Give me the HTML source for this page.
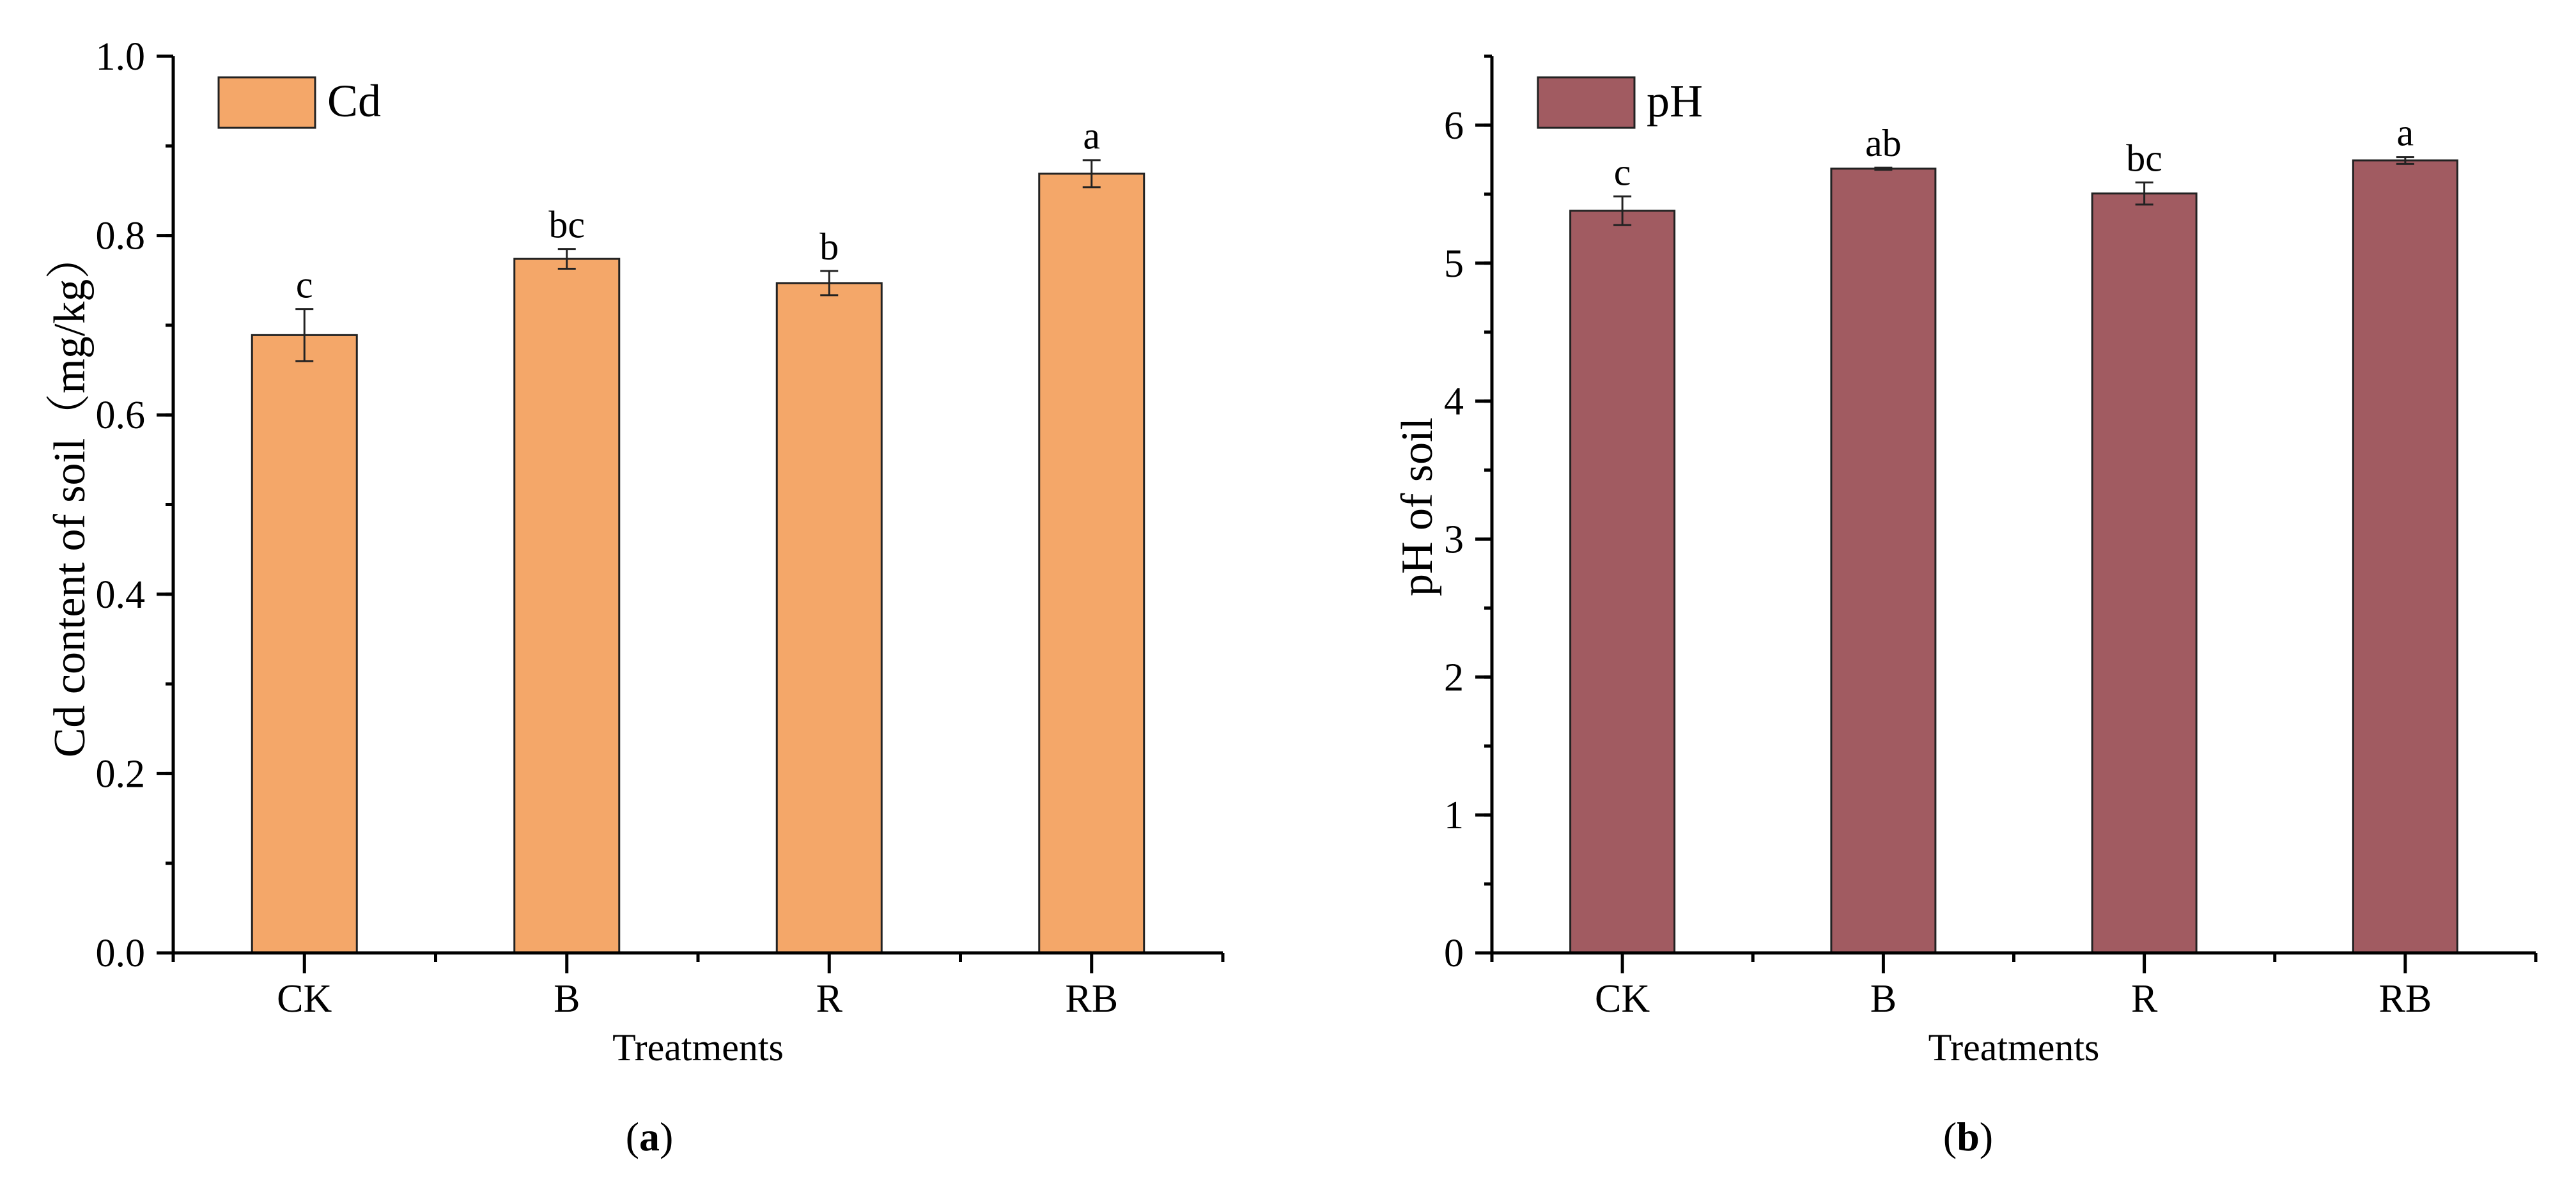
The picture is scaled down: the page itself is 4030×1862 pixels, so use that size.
<!DOCTYPE html>
<html><head><meta charset="utf-8">
<style>
html,body{margin:0;padding:0;background:#fff;}
svg{display:block;}
text{font-family:"Liberation Serif","Noto Serif CJK SC",serif;fill:#000;}
</style></head>
<body>
<svg id="fig" width="4030" height="1862" viewBox="0 0 4030 1862"></svg>
<script>
const categories = ["CK","B","R","RB"];
const cdValues = [0.689, 0.774, 0.747, 0.869];
const cdErrors = [0.029, 0.011, 0.0135, 0.015];
const cdLetters = ["c","bc","b","a"];
const cdTicks = ["0.0","0.2","0.4","0.6","0.8","1.0"];
const phValues = [5.38, 5.685, 5.505, 5.745];
const phErrors = [0.104, 0.008, 0.08, 0.025];
const phLetters = ["c","ab","bc","a"];
const phTicks = ["0","1","2","3","4","5","6"];

const NS = "http://www.w3.org/2000/svg";
const svg = document.getElementById("fig");
function mk(tag, attrs, parent){
  const e = document.createElementNS(NS, tag);
  for (const k in attrs) e.setAttribute(k, attrs[k]);
  (parent||svg).appendChild(e);
  return e;
}

function drawPanel(o){
  const g = mk("g", {});
  
  
  const x0=o.x0, x1=o.x1, yTop=o.yTop, yZero=o.yZero;
  const step=(x1-x0)/o.cats.length;
  const xc=i=>x0+step*(i+0.5);
  const ys=v=>yZero-(v/o.ymax)*(yZero-yTop);
  o.vals.forEach((v,i)=>{
    const b = mk("rect",{x:xc(i)-o.bw/2,y:ys(v),width:o.bw,height:yZero-ys(v),fill:o.color,stroke:"#222","stroke-width":3},g);
    
    
    const e=o.errs[i], cx=xc(i);
    const eb = mk("path",{d:`M${cx} ${ys(v+e)}V${ys(v-e)}M${cx-14} ${ys(v+e)}H${cx+14}M${cx-14} ${ys(v-e)}H${cx+14}`,stroke:"#222","stroke-width":3,fill:"none"},g);
    
    
    const t = mk("text",{x:cx,y:ys(v+e)-18,"font-size":60,"text-anchor":"middle"},g);
    t.textContent=o.letters[i];
    
    
  });
  const ax = mk("path",{d:`M${x0} ${yTop}V${yZero}M${x0-26} ${yZero}H${x1}`,stroke:"#000","stroke-width":5,fill:"none"},g);
  
  
  o.ticks.forEach((lab,i)=>{
    const v=parseFloat(lab), y=ys(v);
    mk("line",{x1:x0-26,x2:x0,y1:y,y2:y,stroke:"#000","stroke-width":5},g);
    const t=mk("text",{x:x0-44,y:y+21,"font-size":62,"text-anchor":"end"},g);
    t.textContent=lab;
    
    
  });
  for(let v=o.minor; v<=o.ymax+1e-9; v+=o.major){
    const y=ys(v);
    mk("line",{x1:x0-12,x2:x0,y1:y,y2:y,stroke:"#000","stroke-width":5},g);
  }
  mk("line",{x1:x0-12,x2:x0,y1:yTop,y2:yTop,stroke:"#000","stroke-width":5},g);
  for(let i=0;i<=o.cats.length;i++){
    const x=x0+step*i;
    mk("line",{x1:x,x2:x,y1:yZero,y2:yZero+14,stroke:"#000","stroke-width":5},g);
  }
  o.cats.forEach((c,i)=>{
    mk("line",{x1:xc(i),x2:xc(i),y1:yZero,y2:yZero+32,stroke:"#000","stroke-width":5},g);
    const t=mk("text",{x:xc(i),y:yZero+92,"font-size":62,"text-anchor":"middle"},g);
    t.textContent=c;
    
    
  });
  const xt=mk("text",{x:(x0+x1)/2,y:yZero+168,"font-size":60,"text-anchor":"middle"},g);
  xt.textContent="Treatments";
  
  
  const yt=mk("text",{x:0,y:0,"font-size":70,"text-anchor":"middle",transform:`translate(${o.ytX},${o.ytY}) rotate(-90)`},g);
  yt.textContent=o.ytitle;
  
  
  const lg=mk("g",{},g);
  
  
  mk("rect",{x:o.lx,y:121,width:151,height:79,fill:o.color,stroke:"#222","stroke-width":3},lg);
  const lt=mk("text",{x:o.lx+170,y:182,"font-size":72},lg);
  lt.textContent=o.legend;
  const pl=mk("text",{x:o.plX,y:1800,"font-size":64,"text-anchor":"middle"},g);
  pl.innerHTML='(<tspan font-weight="bold">'+o.plabel+'</tspan>)';
  
  
}

drawPanel({name:"chart-cd",x0:271,x1:1913,yTop:88,yZero:1491,ymax:1.0,major:0.1,minor:0.1,
  cats:categories,vals:cdValues,errs:cdErrors,letters:cdLetters,ticks:cdTicks,bw:164,color:"#F4A769",
  ytitle:"Cd content of soil（mg/kg）",ytX:132,ytY:776,legend:"Cd",lx:342,plX:1016,plabel:"a"});
drawPanel({name:"chart-ph",x0:2334,x1:3967,yTop:88,yZero:1491,ymax:6.5,major:0.5,minor:0.5,
  cats:categories,vals:phValues,errs:phErrors,letters:phLetters,ticks:phTicks,bw:163,color:"#A15B61",
  ytitle:"pH of soil",ytX:2240,ytY:793,legend:"pH",lx:2406,plX:3079,plabel:"b"});
</script>
</body></html>
